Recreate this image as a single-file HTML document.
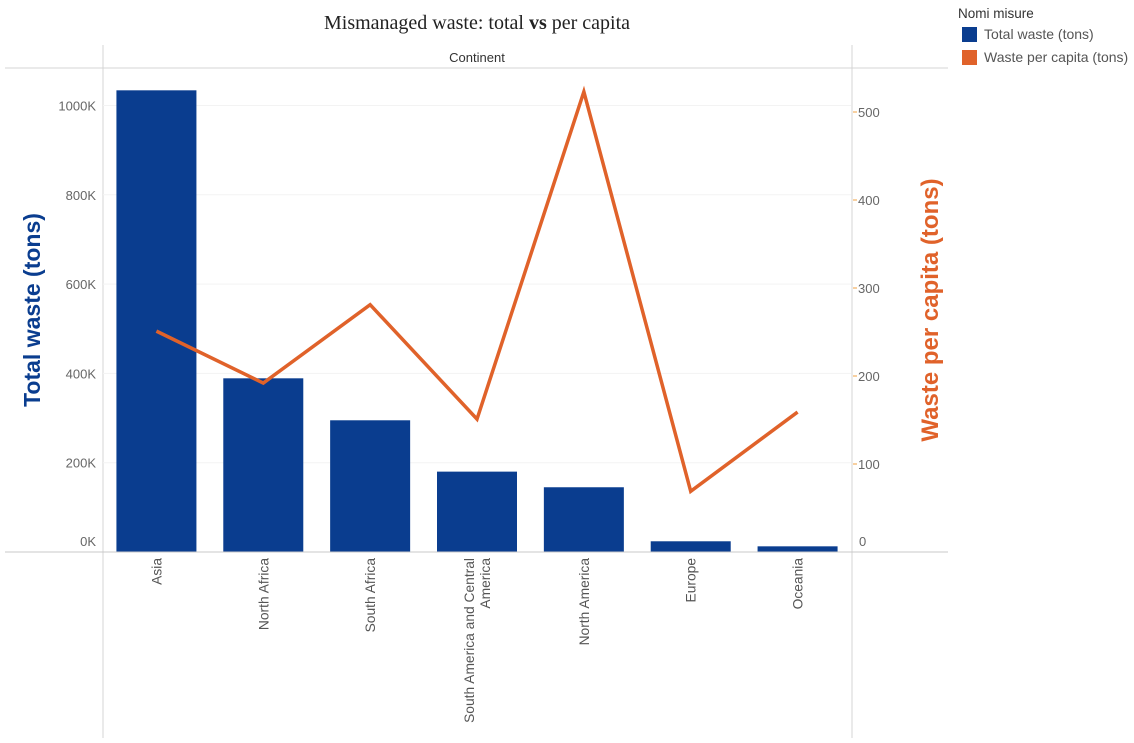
<!DOCTYPE html>
<html><head><meta charset="utf-8"><style>
body{margin:0;background:#fff;font-family:"Liberation Sans",sans-serif;}
svg text{font-family:"Liberation Sans",sans-serif;}
</style></head><body>
<svg width="1134" height="738" xmlns="http://www.w3.org/2000/svg" id="chart">
<text x="477" y="29" text-anchor="middle" font-family="Liberation Serif" font-size="20" fill="#222" style="font-family:'Liberation Serif',serif">Mismanaged waste: total <tspan font-weight="bold">vs</tspan> per capita</text>
<line x1="103" y1="45" x2="103" y2="738" stroke="#d4d4d4"/>
<line x1="852" y1="45" x2="852" y2="738" stroke="#d4d4d4"/>
<line x1="5" y1="68" x2="948" y2="68" stroke="#d4d4d4"/>
<text x="477" y="62" text-anchor="middle" font-size="13" fill="#333">Continent</text>
<g id="grid"></g><g id="bars"></g><g id="line"></g><g id="axes"></g>
<line x1="5" y1="552" x2="948" y2="552" stroke="#c8c8c8"/>
<text transform="translate(40,310) rotate(-90)" text-anchor="middle" font-size="23" font-weight="bold" fill="#0a3d8f">Total waste (tons)</text>
<text transform="translate(938,310) rotate(-90)" text-anchor="middle" font-size="24" font-weight="bold" fill="#e0622a">Waste per capita (tons)</text>
<g>
<text x="958" y="18" font-size="13.5" fill="#333">Nomi misure</text>
<rect x="962" y="27" width="15" height="15" fill="#0a3d8f"/>
<text x="984" y="39" font-size="14" fill="#555">Total waste (tons)</text>
<rect x="962" y="50" width="15" height="15" fill="#e0622a"/>
<text x="984" y="62" font-size="14" fill="#555">Waste per capita (tons)</text>
</g>
</svg>
<script>
const categories=["Asia","North Africa","South Africa","South America and Central America","North America","Europe","Oceania"];
const labelLines=[["Asia"],["North Africa"],["South Africa"],["South America and Central","America"],["North America"],["Europe"],["Oceania"]];
const totalWaste=[1034000,389000,295000,180000,145000,24000,12700];
const perCapita=[251,192,281,151,523,69,159];
const leftTicks=[0,200000,400000,600000,800000,1000000];
const leftTickLabels=["0K","200K","400K","600K","800K","1000K"];
const rightTicks=[0,100,200,300,400,500];
const NS="http://www.w3.org/2000/svg";
const x0=103,x1=851,yBase=552;
const step=(x1-x0)/categories.length;
const xC=i=>x0+step*(i+0.5);
const yL=v=>yBase-v*(446.5/1000000);
const yR=v=>yBase-v*0.88;
function mk(tag,attrs,parent,txt){const e=document.createElementNS(NS,tag);for(const k in attrs)e.setAttribute(k,attrs[k]);if(txt!==undefined)e.textContent=txt;document.getElementById(parent).appendChild(e);return e;}
leftTicks.forEach((t,i)=>{
 if(t>0){const g=mk('line',{x1:x0,x2:x1,y1:yL(t),y2:yL(t),stroke:'#f3f3f3'},'grid');
 
 }
 const l=mk('text',{x:96,y:yL(t)+(t===0?-6:5),'text-anchor':'end','font-size':13,fill:'#666'},'axes',leftTickLabels[i]);
 
 
});
rightTicks.forEach(t=>{
 if(t>0){const tk=mk('line',{x1:853,x2:857,y1:yR(t),y2:yR(t),stroke:'#f0a040'},'axes');
 
 }
 const l=mk('text',{x:t===0?859:858,y:yR(t)+(t===0?-6:5),'font-size':13,fill:'#666'},'axes',String(t));
 
 
});
categories.forEach((c,i)=>{
 const b=mk('rect',{x:xC(i)-40,y:yL(totalWaste[i]),width:80,height:yBase-yL(totalWaste[i]),fill:'#0a3d8f'},'bars');
 
 
 const lines=labelLines[i];
 lines.forEach((ln,j)=>{
  const off=(j-(lines.length-1)/2)*16;
  const t=mk('text',{transform:`translate(${xC(i)+5+off},558) rotate(-90)`,'text-anchor':'end','font-size':13.8,fill:'#555'},'axes',ln);
  
  
 });
});
const pts=perCapita.map((v,i)=>xC(i)+','+yR(v)).join(' ');
const pl=mk('polyline',{points:pts,fill:'none',stroke:'#e0622a','stroke-width':3.5,'stroke-linejoin':'miter'},'line');


</script>
</body></html>
